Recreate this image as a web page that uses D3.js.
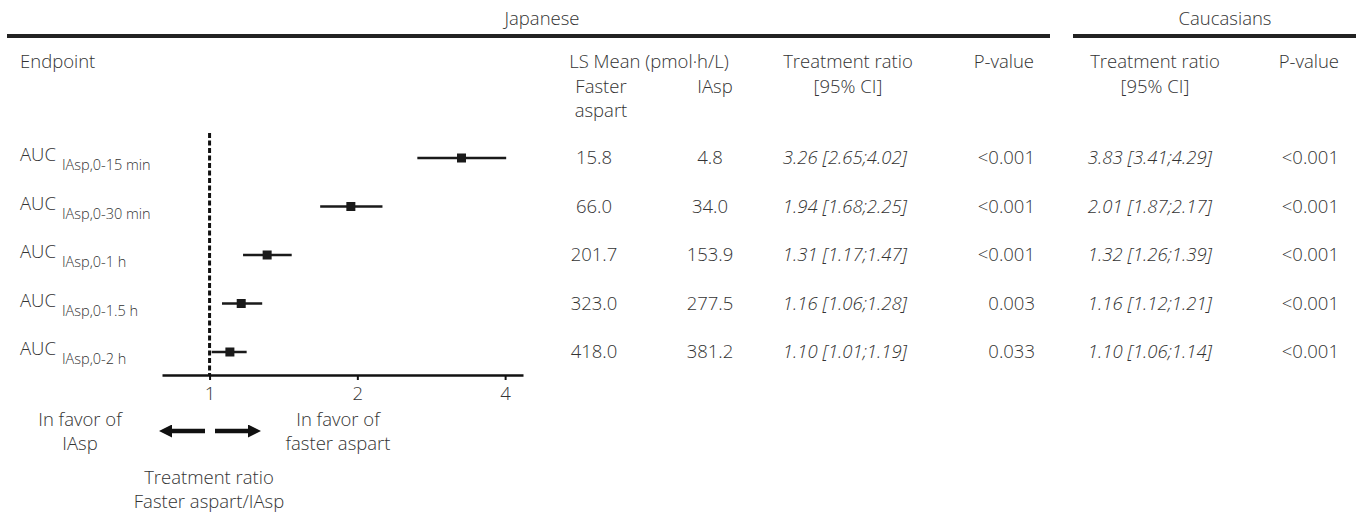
<!DOCTYPE html>
<html>
<head>
<meta charset="utf-8">
<script src="https://cdn.jsdelivr.net/npm/d3@7"></script>
<style>
  body { margin: 0; background: #fff; }
  svg text { font-family: "Open Sans", sans-serif; font-weight: 300; fill: #333; }
</style>
</head>
<body>
<div id="chart"></div>
<script>
const endpoints = ["0-15 min", "0-30 min", "0-1 h", "0-1.5 h", "0-2 h"];
const fasterMean = ["15.8", "66.0", "201.7", "323.0", "418.0"];
const iaspMean = ["4.8", "34.0", "153.9", "277.5", "381.2"];
const jpRatio = [3.26, 1.94, 1.31, 1.16, 1.10];
const jpLow = [2.65, 1.68, 1.17, 1.06, 1.01];
const jpHigh = [4.02, 2.25, 1.47, 1.28, 1.19];
const jpP = ["<0.001", "<0.001", "<0.001", "0.003", "0.033"];
const caRatio = [3.83, 2.01, 1.32, 1.16, 1.10];
const caLow = [3.41, 1.87, 1.26, 1.12, 1.06];
const caHigh = [4.29, 2.17, 1.39, 1.21, 1.14];
const caP = ["<0.001", "<0.001", "<0.001", "<0.001", "<0.001"];
const xTicks = [1, 2, 4];

const width = 1356, height = 519;
const fs = 18.5;
const f2 = d3.format(".2f");
const ci = (r, l, h) => `${f2(r)} [${f2(l)};${f2(h)}]`;

const svg = d3.select("#chart").append("svg")
    .attr("width", width)
    .attr("height", height);

const x = d3.scaleLog().base(2)
    .domain([0.8, 4.35])
    .range([162, 523]);

const y = d3.scalePoint()
    .domain(endpoints)
    .range([158, 352]);

const axisY = 375;

// group headers
svg.append("text").attr("x", 542).attr("y", 25).attr("text-anchor", "middle")
    .style("font-size", fs + "px").text("Japanese");
svg.append("text").attr("x", 1225).attr("y", 25).attr("text-anchor", "middle")
    .style("font-size", fs + "px").text("Caucasians");
svg.append("line").attr("x1", 7).attr("x2", 1050).attr("y1", 36).attr("y2", 36)
    .attr("stroke", "#222").attr("stroke-width", 4);
svg.append("line").attr("x1", 1073).attr("x2", 1356).attr("y1", 36).attr("y2", 36)
    .attr("stroke", "#222").attr("stroke-width", 4);

// column headers
const hdr = [
    { x: 20, y: 68, a: "start", t: "Endpoint" },
    { x: 649, y: 68, a: "middle", t: "LS Mean (pmol·h/L)" },
    { x: 601, y: 93, a: "middle", t: "Faster" },
    { x: 601, y: 117, a: "middle", t: "aspart" },
    { x: 715, y: 93, a: "middle", t: "IAsp" },
    { x: 848, y: 68, a: "middle", t: "Treatment ratio" },
    { x: 848, y: 93, a: "middle", t: "[95% CI]" },
    { x: 1034, y: 68, a: "end", t: "P-value" },
    { x: 1155, y: 68, a: "middle", t: "Treatment ratio" },
    { x: 1155, y: 93, a: "middle", t: "[95% CI]" },
    { x: 1339, y: 68, a: "end", t: "P-value" }
];
svg.selectAll("text.hdr")
    .data(hdr)
    .enter()
    .append("text")
    .attr("class", "hdr")
    .attr("x", d => d.x)
    .attr("y", d => d.y)
    .attr("text-anchor", d => d.a)
    .style("font-size", fs + "px")
    .text(d => d.t);

// endpoint labels
const lab = svg.selectAll("text.ep")
    .data(endpoints)
    .enter()
    .append("text")
    .attr("class", "ep")
    .attr("x", 20)
    .attr("y", d => y(d) + 3)
    .style("font-size", "18.5px");
lab.append("tspan").text("AUC");
lab.append("tspan")
    .attr("dx", 6)
    .attr("dy", 9)
    .style("font-size", "14.5px")
    .text(d => "IAsp," + d);

// table columns
const cols = [
    { x: 594, a: "middle", v: fasterMean, it: false },
    { x: 710, a: "middle", v: iaspMean, it: false },
    { x: 845, a: "middle", v: endpoints.map((_, i) => ci(jpRatio[i], jpLow[i], jpHigh[i])), it: true },
    { x: 1035, a: "end", v: jpP, it: false },
    { x: 1150, a: "middle", v: endpoints.map((_, i) => ci(caRatio[i], caLow[i], caHigh[i])), it: true },
    { x: 1339, a: "end", v: caP, it: false }
];
cols.forEach(c => {
    svg.append("g").selectAll("text")
        .data(c.v)
        .enter()
        .append("text")
        .attr("x", c.x)
        .attr("y", (_, i) => y(endpoints[i]) + 6)
        .attr("text-anchor", c.a)
        .style("font-size", fs + "px")
        .style("font-style", c.it ? "italic" : "normal")
        .text(d => d);
});

// reference line at 1
svg.append("line")
    .attr("x1", x(1)).attr("x2", x(1))
    .attr("y1", 133).attr("y2", axisY)
    .attr("stroke", "#111")
    .attr("stroke-width", 3)
    .attr("stroke-dasharray", "5,2.5");

// axis
const ax = svg.append("g")
    .attr("transform", `translate(0,${axisY})`)
    .call(d3.axisBottom(x).tickValues(xTicks).tickFormat(d3.format("d")).tickSize(5).tickSizeOuter(0).tickPadding(7));
ax.select(".domain").attr("stroke", "#111").attr("stroke-width", 2.5);
ax.selectAll(".tick line").attr("stroke", "#111").attr("stroke-width", 2);
ax.selectAll(".tick text")
    .style("font-family", "'Open Sans', sans-serif")
    .style("font-weight", 300)
    .style("font-size", fs + "px")
    .attr("fill", "#333");

// CI bars and points
svg.selectAll("line.ci")
    .data(endpoints)
    .enter()
    .append("line")
    .attr("class", "ci")
    .attr("x1", (_, i) => x(jpLow[i]))
    .attr("x2", (_, i) => x(jpHigh[i]))
    .attr("y1", d => y(d))
    .attr("y2", d => y(d))
    .attr("stroke", "#1a1a1a")
    .attr("stroke-width", 2.5);

svg.selectAll("rect.pt")
    .data(endpoints)
    .enter()
    .append("rect")
    .attr("class", "pt")
    .attr("x", (_, i) => x(jpRatio[i]) - 4.5)
    .attr("y", d => y(d) - 4.5)
    .attr("width", 9)
    .attr("height", 9)
    .attr("fill", "#1a1a1a");

// favor annotations
const ann = [
    { x: 80, y: 426, t: "In favor of" },
    { x: 80, y: 450, t: "IAsp" },
    { x: 338, y: 426, t: "In favor of" },
    { x: 338, y: 450, t: "faster aspart" },
    { x: 209, y: 484, t: "Treatment ratio" },
    { x: 209, y: 508, t: "Faster aspart/IAsp" }
];
svg.selectAll("text.ann")
    .data(ann)
    .enter()
    .append("text")
    .attr("class", "ann")
    .attr("x", d => d.x)
    .attr("y", d => d.y)
    .attr("text-anchor", "middle")
    .style("font-size", fs + "px")
    .text(d => d.t);

// arrows
const defs = svg.append("defs");
defs.append("marker")
    .attr("id", "head")
    .attr("viewBox", "0 0 10 10")
    .attr("refX", 0).attr("refY", 5)
    .attr("markerUnits", "userSpaceOnUse")
    .attr("markerWidth", 15).attr("markerHeight", 13)
    .attr("orient", "auto")
    .append("path")
    .attr("d", "M0,0L10,5L0,10Z")
    .attr("fill", "#111");

const arrowY = 431;
svg.append("line")
    .attr("x1", 205).attr("x2", 172)
    .attr("y1", arrowY).attr("y2", arrowY)
    .attr("stroke", "#111").attr("stroke-width", 4.5)
    .attr("marker-end", "url(#head)");
svg.append("line")
    .attr("x1", 215).attr("x2", 248)
    .attr("y1", arrowY).attr("y2", arrowY)
    .attr("stroke", "#111").attr("stroke-width", 4.5)
    .attr("marker-end", "url(#head)");
</script>
</body>
</html>
